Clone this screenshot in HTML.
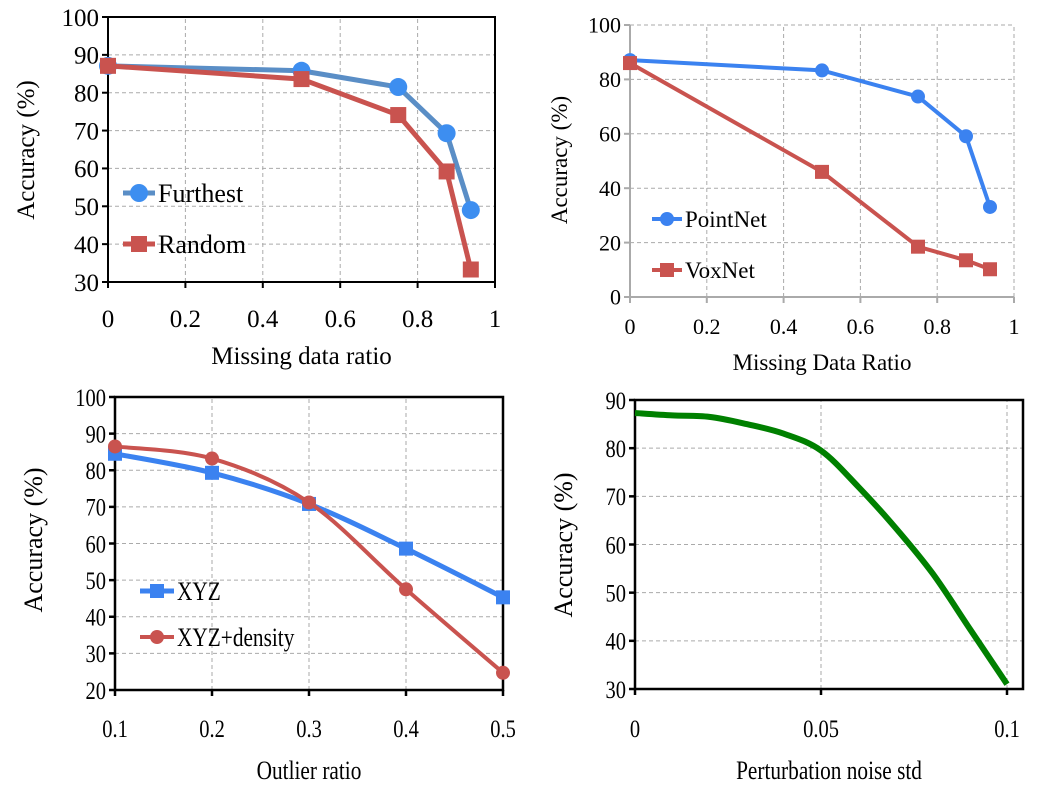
<!DOCTYPE html>
<html><head><meta charset="utf-8"><style>
body{margin:0;background:#fff;}
svg{display:block;font-family:"Liberation Serif",serif;}
</style></head><body>
<svg id="svg" width="1037" height="787" viewBox="0 0 1037 787" xmlns="http://www.w3.org/2000/svg"></svg>
<script>
const xs1 = [0, 0.5, 0.75, 0.875, 0.9375];
const furthest = [87.1, 85.8, 81.5, 69.3, 49.0];
const random = [87.1, 83.6, 74.1, 59.2, 33.3];
const xs2 = [0, 0.5, 0.75, 0.875, 0.9375];
const pointnet = [87.1, 83.3, 73.7, 59.1, 33.1];
const voxnet = [86.0, 46.0, 18.5, 13.5, 10.2];
const xs3 = [0.1, 0.2, 0.3, 0.4, 0.5];
const xyz = [84.5, 79.3, 70.8, 58.6, 45.3];
const xyzDensity = [86.5, 83.2, 71.2, 47.5, 24.7];
const xs4 = [0, 0.01, 0.02, 0.03, 0.04, 0.05, 0.06, 0.07, 0.08, 0.09, 0.1];
const noiseAcc = [87.3, 86.8, 86.5, 85.0, 83.0, 79.5, 72.0, 63.5, 54.0, 42.5, 31.0];
const xt1 = ["0","0.2","0.4","0.6","0.8","1"], xv1=[0,0.2,0.4,0.6,0.8,1];
const yv1 = [30,40,50,60,70,80,90,100];
const yv2 = [0,20,40,60,80,100];
const xv3 = [0.1,0.2,0.3,0.4,0.5], xt3=["0.1","0.2","0.3","0.4","0.5"];
const yv3 = [20,30,40,50,60,70,80,90,100];
const xv4 = [0,0.05,0.1], xt4=["0","0.05","0.1"];
const yv4 = [30,40,50,60,70,80,90];

const NS="http://www.w3.org/2000/svg";
const svg=document.getElementById('svg');
function mk(tag,attrs,parent){const e=document.createElementNS(NS,tag);for(const k in attrs)e.setAttribute(k,attrs[k]);(parent||svg).appendChild(e);return e;}
function scale(d0,d1,r0,r1){return v=>r0+(v-d0)/(d1-d0)*(r1-r0);}
function smoothPath(pts){let d=`M${pts[0][0]},${pts[0][1]}`;for(let i=0;i<pts.length-1;i++){const p0=pts[Math.max(0,i-1)],p1=pts[i],p2=pts[i+1],p3=pts[Math.min(pts.length-1,i+2)];const c1=[p1[0]+(p2[0]-p0[0])/6,p1[1]+(p2[1]-p0[1])/6],c2=[p2[0]-(p3[0]-p1[0])/6,p2[1]-(p3[1]-p1[1])/6];d+=` C${c1[0]},${c1[1]} ${c2[0]},${c2[1]} ${p2[0]},${p2[1]}`;}return d;}
function txt(parent,x,y,s,fs,anchor,sx,extra){
  const t=mk('text',Object.assign({x:0,y:0,'text-anchor':anchor,'font-size':fs,fill:'#000',transform:`translate(${x},${y}) scale(${sx},1)`},extra||{}),parent);t.textContent=s;return t;}

function chart(c){
  const g=mk('g',{});
  
  
  const X=scale(c.xd[0],c.xd[1],c.x0,c.x1),Y=scale(c.yd[0],c.yd[1],c.y0,c.y1);
  const sx=c.sx||1;
  const grid=mk('g',{},g);
  
  
  c.yv.forEach(v=>{mk('line',{x1:c.x0,x2:c.bx1||c.x1,y1:Y(v),y2:Y(v),stroke:'#aaa','stroke-dasharray':'4,3','stroke-width':1},grid);});
  c.xv.forEach(v=>{mk('line',{x1:X(v),x2:X(v),y1:c.y0,y2:c.by1||c.y1,stroke:'#aaa','stroke-dasharray':'4,3','stroke-width':1},grid);});
  const ax=mk('g',{},g);
  
  
  if(c.box){mk('rect',{x:c.x0,y:c.by1||c.y1,width:(c.bx1||c.x1)-c.x0,height:c.y0-(c.by1||c.y1),fill:'none',stroke:c.axisColor,'stroke-width':c.axisW},ax);}
  else{mk('line',{x1:c.x0,x2:c.bx1||c.x1,y1:c.y0,y2:c.y0,stroke:c.axisColor,'stroke-width':c.axisW},ax);mk('line',{x1:c.x0,x2:c.x0,y1:c.y0,y2:c.by1||c.y1,stroke:c.axisColor,'stroke-width':c.axisW},ax);}
  c.yv.forEach(v=>{mk('line',{x1:c.x0-6,x2:c.x0,y1:Y(v),y2:Y(v),stroke:c.axisColor,'stroke-width':c.axisW},ax);
    const t=txt(ax,c.x0-9,Y(v)+c.fs*0.35,String(v),c.fs,'end',sx);
    
    });
  c.xv.forEach((v,i)=>{mk('line',{x1:X(v),x2:X(v),y1:c.y0,y2:c.y0+6,stroke:c.axisColor,'stroke-width':c.axisW},ax);
    const t=txt(ax,X(v),c.xly,c.xt[i],c.fs,'middle',sx);
    
    });
  const xt=txt(g,(c.x0+(c.bx1||c.x1))/2,c.xty,c.xtitle,c.tfs,'middle',sx);
  
  
  const yt=mk('text',{x:0,y:0,'text-anchor':'middle','font-size':c.tfs,fill:'#000',transform:`translate(${c.ytx},${c.yty}) rotate(-90)`},g);yt.textContent='Accuracy (%)';
  
  
  c.series.forEach(s=>{
    const sg=mk('g',{},g);
    
    
    const pts=s.xs.map((x,i)=>[X(x),Y(s.ys[i])]);
    const d=s.smooth?smoothPath(pts):'M'+pts.map(p=>p.join(',')).join(' L');
    mk('path',{d,fill:'none',stroke:s.color,'stroke-width':s.w,'stroke-linejoin':'round'},sg);
    if(s.marker){pts.forEach(p=>{let m;
      if(s.marker==='circle')m=mk('circle',{cx:p[0],cy:p[1],r:s.ms,fill:s.mcolor},sg);
      else m=mk('rect',{x:p[0]-s.ms,y:p[1]-s.ms,width:2*s.ms,height:2*s.ms,fill:s.mcolor},sg);
      
      });}
    if(s.leg){const lg=mk('g',{},g);
      
      
      mk('line',{x1:s.leg[0],x2:s.leg[0]+s.leg[2],y1:s.leg[1],y2:s.leg[1],stroke:s.color,'stroke-width':s.w},lg);
      const cx=s.leg[0]+s.leg[2]/2;
      if(s.marker==='circle')mk('circle',{cx,cy:s.leg[1],r:s.ms,fill:s.mcolor},lg);
      else mk('rect',{x:cx-s.ms,y:s.leg[1]-s.ms,width:2*s.ms,height:2*s.ms,fill:s.mcolor},lg);
      txt(lg,s.leg[0]+s.leg[2]+3,s.leg[1]+s.lfs*0.35,s.label,s.lfs,'start',sx);}
  });
}
chart({name:'chart-missing-data-furthest-random',x0:108,x1:495,y0:282,y1:17,xd:[0,1],yd:[30,100],xv:xv1,xt:xt1,yv:yv1,box:true,axisColor:'#000',axisW:2,fs:25,tfs:25,xly:327,xty:364,xtitle:'Missing data ratio',ytx:34,yty:150,
 series:[
  {id:'furthest',xs:xs1,ys:furthest,color:'#5a8ec6',mcolor:'#3d8ef0',w:5,marker:'circle',ms:9,leg:[123,193,32],label:'Furthest',lfs:26},
  {id:'random',xs:xs1,ys:random,color:'#c9534f',mcolor:'#c9534f',w:5,marker:'square',ms:8,leg:[123,244,32],label:'Random',lfs:26}]});
chart({name:'chart-missing-data-pointnet-voxnet',x0:630,x1:1014,y0:297,y1:25,xd:[0,1],yd:[0,100],xv:xv1,xt:xt1,yv:yv2,box:false,axisColor:'#aaa',axisW:2,fs:22,tfs:23,xly:334,xty:370,xtitle:'Missing Data Ratio',ytx:567,yty:160,
 series:[
  {id:'pointnet',xs:xs2,ys:pointnet,color:'#3b82f0',mcolor:'#3b82f0',w:4,marker:'circle',ms:7,leg:[652,219,30],label:'PointNet',lfs:23},
  {id:'voxnet',xs:xs2,ys:voxnet,color:'#c9534f',mcolor:'#c9534f',w:4,marker:'square',ms:7,leg:[652,270,30],label:'VoxNet',lfs:23}]});
chart({name:'chart-outlier-ratio',x0:115,x1:503,y0:690,y1:397,xd:[0.1,0.5],yd:[20,100],xv:xv3,xt:xt3,yv:yv3,box:true,axisColor:'#000',axisW:2.5,fs:25,tfs:26,sx:0.82,xly:737,xty:779,xtitle:'Outlier ratio',ytx:42,yty:540,
 series:[
  {id:'xyz',xs:xs3,ys:xyz,color:'#3b82f0',mcolor:'#3b82f0',w:5,marker:'square',ms:7,leg:[140,591,34],label:'XYZ',lfs:26,smooth:true},
  {id:'xyz-density',xs:xs3,ys:xyzDensity,color:'#c9534f',mcolor:'#c9534f',w:4,marker:'circle',ms:7,leg:[140,637,34],label:'XYZ+density',lfs:26,smooth:true}]});
chart({name:'chart-perturbation-noise',x0:635,x1:1007,bx1:1023,y0:689,y1:400,xd:[0,0.1],yd:[30,90],xv:xv4,xt:xt4,yv:yv4,box:true,axisColor:'#000',axisW:2.5,fs:25,tfs:26,sx:0.82,xly:737,xty:779,xtitle:'Perturbation noise std',ytx:572,yty:545,
 series:[
  {id:'noise',xs:xs4,ys:noiseAcc,color:'#008000',w:6,marker:null,smooth:true}]});
</script>
</body></html>
